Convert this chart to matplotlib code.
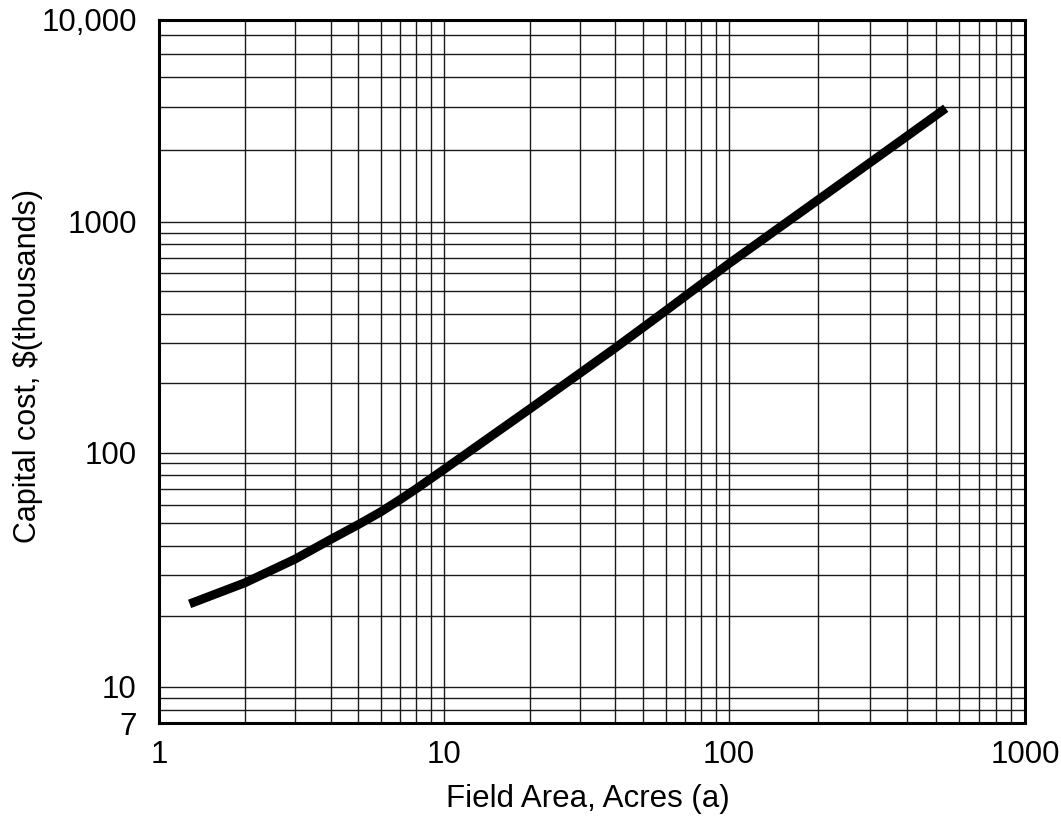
import numpy as np
import matplotlib.pyplot as plt

plt.rcParams['font.family'] = ['Liberation Sans', 'DejaVu Sans']

# Capital cost curve read along the field area axis
area_acres = [1.28, 2, 3, 4, 5, 6, 7, 8, 9, 10, 20, 30, 40, 50, 60, 70, 80,
              90, 100, 200, 300, 400, 540]
cost_thousands = [22.6, 27.8, 35.1, 42.6, 49.3, 55.9, 63.0, 70.2, 77.6, 84.9,
                  154.8, 221, 285, 349, 412, 475, 537, 598, 659, 1235, 1767,
                  2278, 2973]

x_major = [1, 10, 100, 1000]
x_major_labels = ['1', '10', '100', '1000']
y_major = [7, 10, 100, 1000, 10000]
y_major_labels = ['7', '10', '100', '1000', '10,000']

x_minor = [m * d for d in (1, 10, 100) for m in range(2, 10)]
y_minor = [8, 9] + [m * d for d in (10, 100) for m in range(2, 10)] + \
          [2000, 3000, 4000, 5000, 6000]

# the printed log paper is not evenly spaced from decade to decade,
# so the scales are calibrated piecewise (log value -> paper units)
x_cal_log = [0.0, 1.0, 2.0, 3.0]
x_cal_pos = [0.0, 285.0, 569.7, 866.0]
y_cal_log = [np.log10(7), 1.0, 2.0, 3.0, np.log10(6000), 4.0]
y_cal_pos = [0.0, 36.6, 270.6, 501.3, 688.3, 703.3]


def paper_scale(cal_log, cal_pos):
    lg = np.asarray(cal_log, float)
    ps = np.asarray(cal_pos, float)
    # extend linearly past the ends so the mapping stays invertible
    s0 = (ps[1] - ps[0]) / (lg[1] - lg[0])
    s1 = (ps[-1] - ps[-2]) / (lg[-1] - lg[-2])
    lg = np.concatenate([[lg[0] - 20], lg, [lg[-1] + 20]])
    ps = np.concatenate([[ps[0] - 20 * s0], ps, [ps[-1] + 20 * s1]])

    def forward(v):
        v = np.log10(np.clip(np.asarray(v, float), 1e-20, None))
        return np.interp(v, lg, ps)

    def inverse(p):
        return 10 ** np.interp(np.asarray(p, float), ps, lg)

    return forward, inverse


fig = plt.figure(figsize=(10.61, 8.22), dpi=100)
ax = fig.add_axes([0.1499, 0.12, 0.8162, 0.8557])

ax.set_xscale('function', functions=paper_scale(x_cal_log, x_cal_pos))
ax.set_yscale('function', functions=paper_scale(y_cal_log, y_cal_pos))
ax.set_xlim(1, 1000)
ax.set_ylim(7, 10000)

ax.set_xticks(x_major, labels=x_major_labels)
ax.set_yticks(y_major, labels=y_major_labels)
ax.set_xticks(x_minor, minor=True)
ax.set_yticks(y_minor, minor=True)
ax.tick_params(which='both', length=0)
ax.tick_params(axis='x', labelsize=22.5, pad=12)
ax.tick_params(axis='y', labelsize=22.5, pad=16)

ax.grid(True, which='both', color='#1a1a1a', linewidth=1.0)
for sp in ax.spines.values():
    sp.set_linewidth(2.2)
    sp.set_zorder(3)

ax.plot(area_acres, cost_thousands, color='black', linewidth=6.4,
        solid_capstyle='butt', zorder=4)

ax.set_xlabel('Field Area, Acres (a)', fontsize=22.5)
ax.set_ylabel('Capital cost, $(thousands)', fontsize=22)
ax.xaxis.set_label_coords(0.4953, -0.086)
ax.yaxis.set_label_coords(-0.1336, 0.508)

fig.savefig('out.png', dpi=100)
